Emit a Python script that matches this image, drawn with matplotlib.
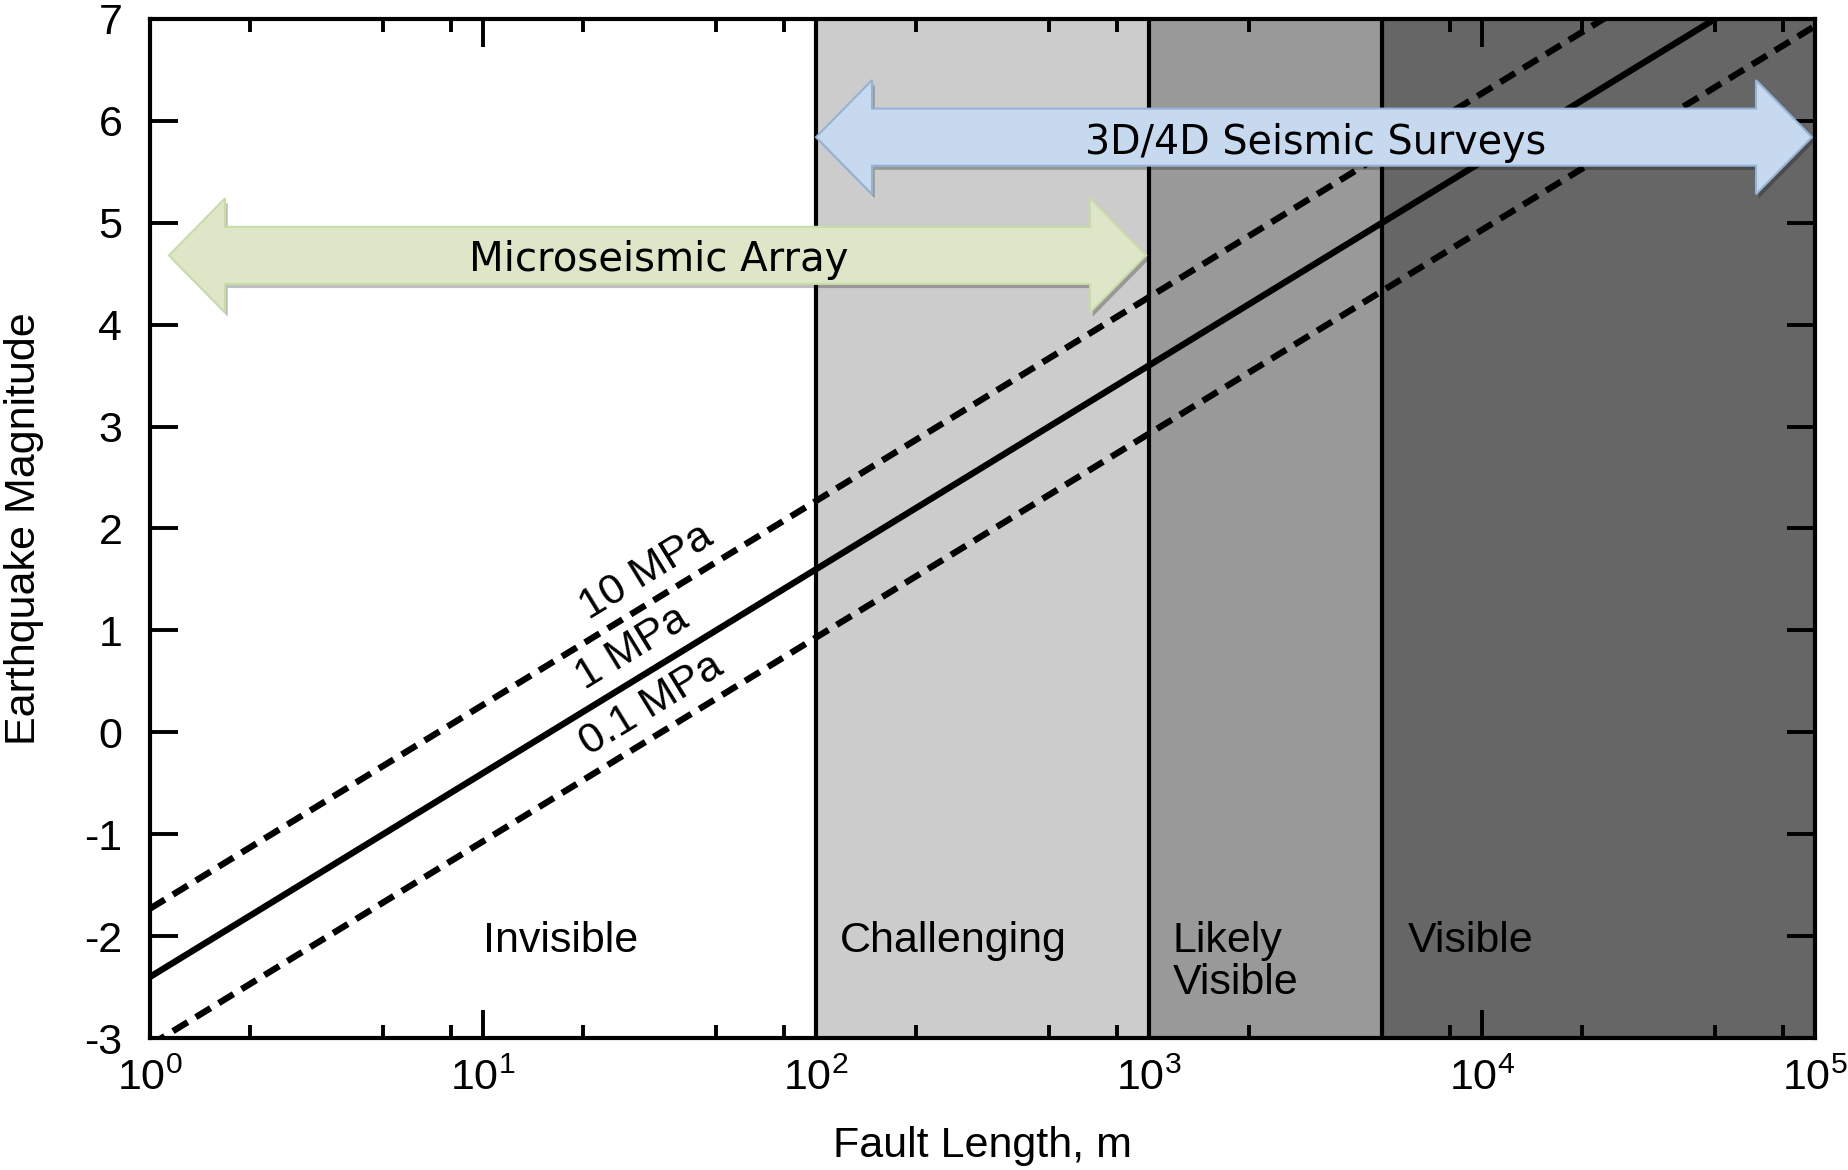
import numpy as np
import matplotlib
matplotlib.use("Agg")
import matplotlib.pyplot as plt
from matplotlib.patches import Polygon
from matplotlib.transforms import blended_transform_factory
from matplotlib.ticker import LogLocator, NullFormatter
import matplotlib.patheffects as pe

plt.rcParams['font.family'] = ['Liberation Sans', 'DejaVu Sans']
plt.rcParams['mathtext.fontset'] = 'custom'
plt.rcParams['mathtext.rm'] = 'Liberation Sans'
plt.rcParams['mathtext.it'] = 'Liberation Sans'
plt.rcParams['axes.unicode_minus'] = False

# --- data ---
fault_len = [1.0, 1e5]
mag_10mpa = [-1.73, 8.27]
mag_1mpa = [-2.40, 7.60]
mag_01mpa = [-3.07, 6.93]

band_edges = [100, 1000, 5000, 1e5]
band_colors = ['#cccccc', '#999999', '#666666']

zone_names = ['Invisible', 'Challenging', 'Likely\nVisible', 'Visible']
zone_x = [10, 118, 1180, 6000]
zone_top = -1.85

micro_range = [1.14, 980]
micro_level = 4.68
survey_range = [100, 9.8e4]
survey_level = 5.84

stress_labels = ['10 MPa', '1 MPa', '0.1 MPa']
stress_label_x = [31, 28, 32]
stress_label_y = [1.57, 0.83, 0.27]

FS = 31

fig = plt.figure(figsize=(18.48, 11.7), dpi=100)
ax = fig.add_axes([0.0812, 0.1128, 0.9009, 0.871])
ax.set_xscale('log')
ax.set_xlim(1, 1e5)
ax.set_ylim(-3, 7)

# shaded visibility bands
for i in range(len(band_colors)):
    ax.axvspan(band_edges[i], band_edges[i + 1], color=band_colors[i], zorder=0, lw=0)
for e in band_edges[:-1]:
    ax.axvline(e, color='black', lw=3.0, zorder=1)

# magnitude lines
dash = (0, (2.7, 1.5))
ax.plot(fault_len, mag_10mpa, color='black', lw=4.6, ls=dash, zorder=3)
ax.plot(fault_len, mag_1mpa, color='black', lw=4.6, zorder=3)
ax.plot(fault_len, mag_01mpa, color='black', lw=4.6, ls=dash, zorder=3)

# angle of the lines on screen
p1 = ax.transData.transform((fault_len[0], mag_1mpa[0]))
p2 = ax.transData.transform((fault_len[1], mag_1mpa[1]))
ang = np.degrees(np.arctan2(p2[1] - p1[1], p2[0] - p1[0]))
for lab, x, y in zip(stress_labels, stress_label_x, stress_label_y):
    ax.text(x, y, lab, rotation=ang, rotation_mode='anchor', ha='center', va='center',
            fontsize=FS, zorder=4)

for name, x in zip(zone_names, zone_x):
    ax.text(x, zone_top, name, ha='left', va='top', fontsize=FS, zorder=4, linespacing=1.08)


def block_arrow(xr, yc, fc, ec):
    trans = blended_transform_factory(ax.transAxes, ax.transData)
    inv = ax.transAxes.inverted()
    x0 = inv.transform(ax.transData.transform((xr[0], yc)))[0]
    x1 = inv.transform(ax.transData.transform((xr[1], yc)))[0]
    hl = 56 / ax.bbox.width
    sw, hw = 0.28, 0.56
    pts = [(x0, yc), (x0 + hl, yc + hw), (x0 + hl, yc + sw), (x1 - hl, yc + sw),
           (x1 - hl, yc + hw), (x1, yc), (x1 - hl, yc - hw), (x1 - hl, yc - sw),
           (x0 + hl, yc - sw), (x0 + hl, yc - hw)]
    poly = Polygon(pts, closed=True, transform=trans, fc=fc, ec=ec, lw=1.5, zorder=5,
                   path_effects=[pe.SimplePatchShadow(offset=(2, -3), shadow_rgbFace='black', alpha=0.25),
                                 pe.Normal()])
    ax.add_patch(poly)


block_arrow(micro_range, micro_level, '#dde7c8', '#c9dba9')
block_arrow(survey_range, survey_level, '#c6d9ee', '#95b3d7')
ax.text(np.sqrt(micro_range[0] * 1000), micro_level - 0.05, 'Microseismic Array', ha='center',
        va='center', fontsize=29, family='DejaVu Sans', zorder=6)
ax.text(np.sqrt(survey_range[0] * 1e5), survey_level - 0.06, '3D/4D Seismic Surveys', ha='center',
        va='center', fontsize=28.5, family='DejaVu Sans', zorder=6)

# axes styling
for s in ax.spines.values():
    s.set_linewidth(3)
    s.set_zorder(7)
ax.set_yticks(range(-3, 8))
ax.xaxis.set_major_locator(LogLocator(base=10, numticks=10))
ax.xaxis.set_minor_locator(LogLocator(base=10, subs=(2, 5, 8), numticks=10))
ax.xaxis.set_minor_formatter(NullFormatter())
ax.tick_params(which='major', direction='in', length=20, width=2.8, labelsize=FS,
               top=True, right=True)
ax.tick_params(which='minor', direction='in', length=9.5, width=2.8, top=True)
ax.tick_params(axis='y', pad=20)
ax.tick_params(axis='x', pad=15)

ax.set_xlabel('Fault Length, m', fontsize=FS)
ax.set_ylabel('Earthquake Magnitude', fontsize=FS)
ax.xaxis.set_label_coords(0.5, -0.086)
ax.yaxis.set_label_coords(-0.064, 0.5)

fig.savefig('out.png', dpi=100)
